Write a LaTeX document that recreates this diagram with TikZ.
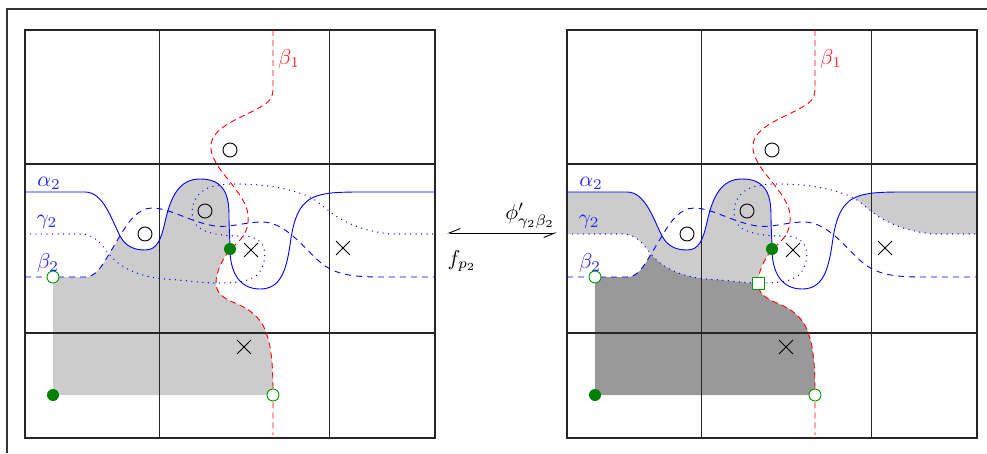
\documentclass[tikz,border=0pt]{standalone}
\usetikzlibrary{shapes.misc,arrows.meta}
\begin{document}
\begin{tikzpicture}[x=1pt,y=-1pt,
  gridline/.style={draw=black!85, line width=1.1pt},
  alphacurve/.style={draw=blue, line width=0.9pt},
  betacurve/.style={draw=blue, line width=0.9pt, dash pattern=on 6pt off 5pt},
  gammacurve/.style={draw=blue, line width=1.4pt, dash pattern=on 0.01pt off 5.5pt, line cap=round},
  redcurve/.style={draw=red, line width=0.9pt, dash pattern=on 6pt off 4pt},
  ocirc/.style={circle, draw=black, line width=0.9pt, minimum size=14pt, inner sep=0pt},
  xmark/.style={cross out, draw=black, line width=0.9pt, minimum size=13pt, inner sep=0pt},
  gdot/.style={circle, fill=green!50!black, minimum size=12pt, inner sep=0pt},
  gopen/.style={circle, draw=green!60!black, fill=white, line width=0.9pt, minimum size=12pt, inner sep=0pt},
  gsq/.style={rectangle, draw=green!60!black, fill=white, line width=0.9pt, minimum size=12pt, inner sep=0pt},
  lab/.style={scale=2.15, transform shape, inner sep=0pt},
  lightshade/.style={fill=black!20},
  darkshade/.style={fill=black!40},
  framestyle/.style={draw=black!80, line width=1.4pt},
  maparrow/.style={line width=0.9pt, {Straight Barb[harpoon,swap,length=11pt,width=9pt]}-{Straight Barb[harpoon,swap,length=11pt,width=9pt]}},
]
\useasboundingbox (0,0) rectangle (987,453);
\draw[framestyle] (987,9) -- (7,9) -- (7,453);

% ---- left panel shading
\fill[lightshade] (53,277) -- (53,395) -- (273,395)
  .. controls (273,370) and (272,350) .. (267,335)
  .. controls (262,318) and (250,309) .. (235,303)
  .. controls (222,298) and (216,292) .. (216,283)
  .. controls (216,272) and (222,260) .. (230,249)
  .. controls (230,240) and (229,230) .. (229,215)
  .. controls (229,192) and (222,179) .. (200,179)
  .. controls (180,179) and (171,195) .. (165,222)
  .. controls (161,240) and (157,250) .. (145,250)
  .. controls (135,250) and (126,247) .. (120,236)
  .. controls (116,242) and (113,248) .. (109,254)
  .. controls (102,266) and (96,277) .. (85,277) -- cycle;

% ---- right panel shading
\begin{scope}[shift={(542,0)}]
\fill[lightshade] (25,192) -- (85,192)
  .. controls (103,192) and (111,218) .. (120,236)
  .. controls (126,247) and (135,250) .. (145,250)
  .. controls (157,250) and (161,240) .. (165,222)
  .. controls (171,195) and (180,179) .. (200,179)
  .. controls (222,179) and (229,192) .. (229,215)
  .. controls (229,230) and (230,240) .. (230,249)
  .. controls (222,260) and (216,272) .. (216,283)
  .. controls (200,283) and (185,280) .. (165,279)
  .. controls (140,277) and (120,268) .. (109,254)
  .. controls (101,244) and (95,234) .. (80,234) -- (25,234) -- cycle;
\fill[darkshade] (53,277) -- (53,395) -- (273,395)
  .. controls (273,370) and (272,350) .. (267,335)
  .. controls (262,318) and (250,309) .. (235,303)
  .. controls (222,298) and (216,292) .. (216,283)
  .. controls (200,283) and (185,280) .. (165,279)
  .. controls (140,277) and (120,268) .. (109,254)
  .. controls (102,266) and (96,277) .. (85,277) -- cycle;
\fill[lightshade] (312,198) .. controls (322,193) and (335,192) .. (360,192)
  -- (435,192) -- (435,234) -- (390,234)
  .. controls (340,228) and (328,208) .. (312,198) -- cycle;
\end{scope}

\foreach \p/\dx in {L/0,R/542} {
\begin{scope}[shift={(\dx,0)}]
  \draw[gridline] (25,30) rectangle (435,438);
  \draw[gridline] (159.5,30) -- (159.5,438);
  \draw[gridline] (329.5,30) -- (329.5,438);
  \draw[gridline] (25,164) -- (435,164);
  \draw[gridline] (25,333) -- (435,333);
  % gamma_2
  \draw[gammacurve] (25,234) -- (80,234)
    .. controls (95,234) and (101,244) .. (109,254)
    .. controls (120,268) and (140,277) .. (165,279)
    .. controls (185,280) and (200,283) .. (216,283)
    .. controls (235,283) and (250,282) .. (258,274)
    .. controls (265,266) and (267,252) .. (262,244)
    .. controls (257,237) and (250,236) .. (240,236)
    .. controls (225,236) and (205,234) .. (197,226)
    .. controls (190,218) and (190,203) .. (200,193)
    .. controls (208,186) and (220,184) .. (235,184)
    .. controls (265,184) and (290,188) .. (312,198)
    .. controls (328,208) and (340,228) .. (390,234) -- (435,234);
  % beta_2
  \draw[betacurve] (25,277) -- (85,277)
    .. controls (96,277) and (102,266) .. (109,254)
    .. controls (113,248) and (116,242) .. (120,236)
    .. controls (128,222) and (138,208) .. (152,208)
    .. controls (170,208) and (190,222) .. (215,226)
    .. controls (230,228) and (245,222) .. (262,222)
    .. controls (285,222) and (302,246) .. (320,262)
    .. controls (334,274) and (350,277) .. (380,277) -- (435,277);
  % alpha_2
  \draw[alphacurve] (25,192) -- (85,192)
    .. controls (103,192) and (111,218) .. (120,236)
    .. controls (126,247) and (135,250) .. (145,250)
    .. controls (157,250) and (161,240) .. (165,222)
    .. controls (171,195) and (180,179) .. (200,179)
    .. controls (222,179) and (229,192) .. (229,215)
    .. controls (229,230) and (230,240) .. (230,249)
    .. controls (230,270) and (238,289) .. (260,289)
    .. controls (280,289) and (286,272) .. (290,245)
    .. controls (293,222) and (298,205) .. (312,198)
    .. controls (322,193) and (335,192) .. (360,192) -- (435,192);
  % beta_1
  \draw[redcurve] (273,30) -- (273,88)
    .. controls (273,100) and (268,103) .. (255,110)
    .. controls (240,118) and (220,125) .. (213,138)
    .. controls (208,148) and (212,158) .. (222,172)
    .. controls (238,192) and (250,205) .. (248,222)
    .. controls (247,235) and (238,243) .. (230,249)
    .. controls (222,260) and (216,272) .. (216,283)
    .. controls (216,292) and (222,298) .. (235,303)
    .. controls (250,309) and (262,318) .. (267,335)
    .. controls (272,350) and (273,370) .. (273,395) -- (273,435);
  % markers
  \node[ocirc] (c1\p) at (230,150) {};
  \node[ocirc] (c2\p) at (145,234) {};
  \node[ocirc] (c3\p) at (205,211) {};
  \node[xmark] (x1\p) at (251,250) {};
  \node[xmark] (x2\p) at (343,248) {};
  \node[xmark] (x3\p) at (244,347) {};
  \node[gdot] (d1\p) at (230,249) {};
  \node[gdot] (d2\p) at (53,395) {};
  \node[gopen] (o1\p) at (53,277) {};
  \node[gopen] (o2\p) at (273,395) {};
  % labels
  \node[lab, text=blue!85] (la\p) at (49,183) {$\alpha_2$};
  \node[lab, text=blue!85] (lg\p) at (47,222) {$\gamma_2$};
  \node[lab, text=blue!85] (lb\p) at (48,263) {$\beta_2$};
  \node[lab, text=red!85] (lr\p) at (289,59) {$\beta_1$};
\end{scope}
}
\node[gsq] (sq) at (758,283) {};

% maps between panels
\coordinate (arrL) at (447,233);
\coordinate (arrR) at (557,233);
\draw[maparrow] (arrL) -- (arrR);
\node[lab] (phi) at (530,216) {$\phi'_{\gamma_2\beta_2}$};
\node[lab] (fp) at (462,261) {$f_{p_2}$};
\end{tikzpicture}
\end{document}
